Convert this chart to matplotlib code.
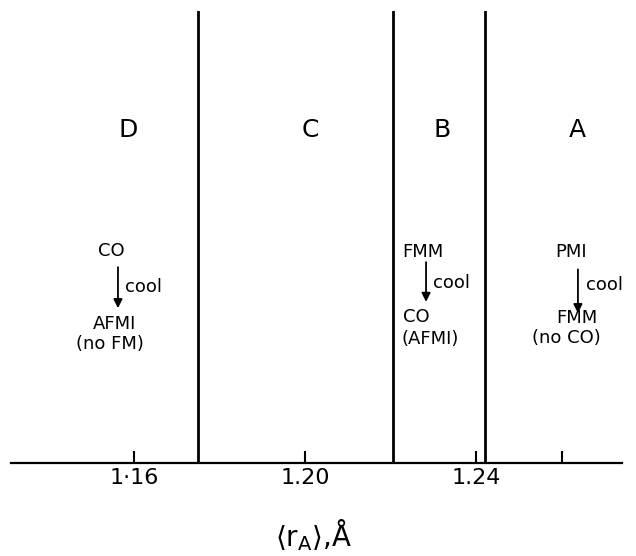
import matplotlib
matplotlib.use("Agg")
import matplotlib.pyplot as plt

plt.rcParams['font.family'] = ['DejaVu Sans']
plt.rcParams['mathtext.fontset'] = 'dejavusans'

# ---- data ----
boundaries = [1.175, 1.2205, 1.242]          # phase-boundary <r_A> values
regions = ['D', 'C', 'B', 'A']
region_x = [1.1586, 1.2012, 1.2320, 1.2636]  # label positions along <r_A>
tick_values = [1.16, 1.20, 1.24, 1.26]
tick_labels = ['1·16', '1.20', '1.24', '']
xlim = (1.1313, 1.2741)

W, H = 636, 556
fig = plt.figure(figsize=(W / 100, H / 100), dpi=100)
ax_left, ax_right = 11, 622
ax_bottom, ax_top = 462.7, 11
ax = fig.add_axes([ax_left / W, 1 - ax_bottom / H,
                   (ax_right - ax_left) / W, (ax_bottom - ax_top) / H])
ax.set_xlim(*xlim)
ax.set_ylim(0, 1)

for s in ['top', 'left', 'right']:
    ax.spines[s].set_visible(False)
ax.spines['bottom'].set_linewidth(1.6)
ax.set_yticks([])
ax.set_xticks(tick_values)
ax.set_xticklabels(tick_labels)
ax.tick_params(axis='x', direction='in', length=9, width=1.5, pad=4,
               labelsize=16)

for b in boundaries:
    ax.axvline(b, ymin=0, ymax=1, color='black', lw=2.0)

for r, x in zip(regions, region_x):
    ax.text(x, 0.737, r, ha='center', va='center', fontsize=18)

fs = 13
arrow_kw = dict(arrowstyle='-|>', lw=1.3, color='black',
                mutation_scale=13, shrinkA=0, shrinkB=0)

# Region D
ax.text(1.1548, 0.468, 'CO', ha='center', va='center', fontsize=fs)
ax.annotate('', xy=(1.1563, 0.342), xytext=(1.1563, 0.433), arrowprops=arrow_kw)
ax.text(1.1579, 0.390, 'cool', ha='left', va='center', fontsize=fs)
ax.text(1.1556, 0.306, 'AFMI', ha='center', va='center', fontsize=fs)
ax.text(1.1544, 0.262, '(no FM)', ha='center', va='center', fontsize=fs)

# Region B
ax.text(1.2228, 0.466, 'FMM', ha='left', va='center', fontsize=fs)
ax.annotate('', xy=(1.2283, 0.356), xytext=(1.2283, 0.444), arrowprops=arrow_kw)
ax.text(1.2299, 0.397, 'cool', ha='left', va='center', fontsize=fs)
ax.text(1.2228, 0.3225, 'CO', ha='left', va='center', fontsize=fs)
ax.text(1.2226, 0.2733, '(AFMI)', ha='left', va='center', fontsize=fs)

# Region A
ax.text(1.2623, 0.466, 'PMI', ha='center', va='center', fontsize=fs)
ax.annotate('', xy=(1.2638, 0.331), xytext=(1.2638, 0.428), arrowprops=arrow_kw)
ax.text(1.2658, 0.3925, 'cool', ha='left', va='center', fontsize=fs)
ax.text(1.2635, 0.3196, 'FMM', ha='center', va='center', fontsize=fs)
ax.text(1.2611, 0.2754, '(no CO)', ha='center', va='center', fontsize=fs)

ax.set_xlabel(r'$\langle \mathrm{r}_{\mathrm{A}}\rangle$,Å', fontsize=20)
ax.xaxis.set_label_coords((313 - ax_left) / (ax_right - ax_left),
                          (ax_bottom - 517) / (ax_bottom - ax_top))
ax.xaxis.label.set_va('top')

fig.savefig('out.png', dpi=100)
